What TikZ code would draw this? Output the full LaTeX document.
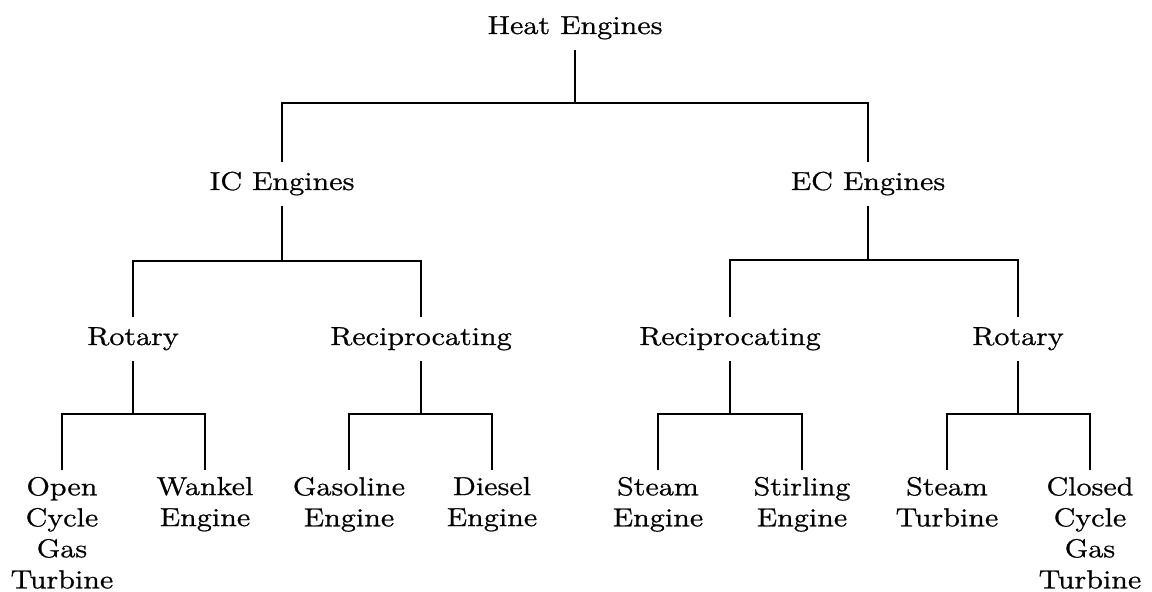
\documentclass[tikz,border=0pt]{standalone}
\usepackage{fontspec}
\setmainfont{lmroman12-regular.otf}[FakeStretch=1.18,FakeBold=1]
\begin{document}
\begin{tikzpicture}[x=0.5pt,y=-0.5pt,
  lbl/.style={inner sep=0pt, outer ysep=5pt, text height=9pt, text depth=3pt, anchor=base, font=\fontsize{13}{15.5}\selectfont},
  leaf/.style={inner sep=0pt, outer ysep=3.5pt, anchor=north, align=center, font=\fontsize{13}{15.5}\selectfont},
  edge/.style={line width=1.2pt}]
\useasboundingbox (0,0) rectangle (1152,592);
% nodes
\node[lbl] (he) at (575,34) {Heat Engines};
\node[lbl] (ic) at (282,190) {IC Engines};
\node[lbl] (ec) at (868,190) {EC Engines};
\node[lbl] (ro1) at (133,345) {Rotary};
\node[lbl] (re1) at (421,345) {Reciprocating};
\node[lbl] (re2) at (730,345) {Reciprocating};
\node[lbl] (ro2) at (1018,345) {Rotary};
\node[leaf] (l1) at (62,470) {Open\\Cycle\\Gas\\Turbine};
\node[leaf] (l2) at (205,470) {Wankel\\Engine};
\node[leaf] (l3) at (349,470) {Gasoline\\Engine};
\node[leaf] (l4) at (492,470) {Diesel\\Engine};
\node[leaf] (l5) at (658,470) {Steam\\Engine};
\node[leaf] (l6) at (802,470) {Stirling\\Engine};
\node[leaf] (l7) at (947,470) {Steam\\Turbine};
\node[leaf] (l8) at (1090,470) {Closed\\Cycle\\Gas\\Turbine};
% junctions
\coordinate (j0) at (575,103);
\coordinate (j1) at (282,261);
\coordinate (j2) at (868,260);
\coordinate (j3) at (133,414);
\coordinate (j4) at (421,414);
\coordinate (j5) at (730,414);
\coordinate (j6) at (1018,414);
% connectors
\draw[edge] (he.south) -- (j0);
\draw[edge] (ic.north) |- (j0) -| (ec.north);
\draw[edge] (ic.south) -- (j1);
\draw[edge] (ro1.north) |- (j1) -| (re1.north);
\draw[edge] (ec.south) -- (j2);
\draw[edge] (re2.north) |- (j2) -| (ro2.north);
\draw[edge] (ro1.south) -- (j3);
\draw[edge] (l1.north) |- (j3) -| (l2.north);
\draw[edge] (re1.south) -- (j4);
\draw[edge] (l3.north) |- (j4) -| (l4.north);
\draw[edge] (re2.south) -- (j5);
\draw[edge] (l5.north) |- (j5) -| (l6.north);
\draw[edge] (ro2.south) -- (j6);
\draw[edge] (l7.north) |- (j6) -| (l8.north);
\end{tikzpicture}
\end{document}
